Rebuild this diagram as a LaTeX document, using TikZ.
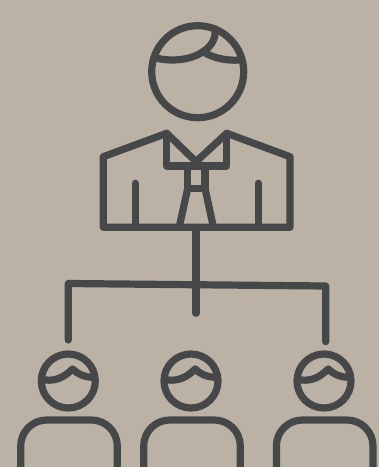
\documentclass[tikz,border=0pt]{standalone}
\usetikzlibrary{calc}
\definecolor{cPaper}{HTML}{BBB1A5}
\definecolor{cInk}{HTML}{454748}
\tikzset{
  ink/.style={draw=cInk, line width=5.4pt, line cap=round, line join=round},
  bighead/.style={circle, ink, minimum size=69pt, inner sep=0pt},
  smallhead/.style={circle, ink, minimum size=40.5pt, inner sep=0pt},
}

\begin{document}
\begin{tikzpicture}[x=0.75pt, y=-0.75pt]

  % ---------- background ----------
  \fill[cPaper] (0,0) rectangle (379,467);
  \useasboundingbox (0,0) rectangle (379,467);
  \clip (0,0) rectangle (379,467);

  % ---------- boss head ----------
  \node[bighead] (bosshead) at (197.7,71.7) {};
  \draw[ink] (156,58) .. controls (172,62) and (191,60) .. (203,51.7)
             .. controls (212,46) and (216,38) .. (215,29);
  \draw[ink] (203,51.7) .. controls (213,58) and (226,61) .. (240,60);

  % ---------- boss body ----------
  \draw[ink] (103.3,156.7) -- (166.7,133.3) -- (196,161.7) -- (226.7,133.3)
             -- (290,156.7) -- (290,227.3) -- (103.3,227.3) -- cycle;
  \draw[ink] (166.7,133.3) -- (166.7,166) -- (226.7,166) -- (226.7,133.3);
  \draw[ink] (135.3,183.3) -- (135.3,227.3);
  \draw[ink] (258.3,183.3) -- (258.3,227.3);

  % ---------- tie ----------
  \draw[ink] (187.7,166) -- (187.7,188.3) -- (205,188.3) -- (205,166);
  \draw[ink] (187.7,188.3) -- (179.3,226.7);
  \draw[ink] (205,188.3) -- (213.3,226.7);

  % ---------- branches ----------
  \coordinate (root) at (196,227.3);
  \coordinate (hub) at (196,285);
  \coordinate (left) at (68.3,283.5);
  \coordinate (right) at (325.7,286);
  \draw[ink] (root) -- (hub) -- (196,313.3);
  \draw[ink] (68.3,340) -- (left) -- (right) -- (325.7,341.7);

  % ---------- team ----------
  \foreach \hx/\bx/\name in {68.3/69/a, 191/192/b, 324/324.7/c} {
    \node[smallhead] (head\name) at (\hx,381) {};
    \draw[ink] (\hx-23,380) .. controls (\hx-13,381) and (\hx-5,378) .. (\hx+4.3,369)
               .. controls (\hx+9,374) and (\hx+16,377) .. (\hx+23.3,377.3);
    \draw[ink, rounded corners=19.5pt] (\bx-48.3,490) -- (\bx-48.3,420) -- (\bx+48.3,420) -- (\bx+48.3,490);
  }

\end{tikzpicture}
\end{document}
